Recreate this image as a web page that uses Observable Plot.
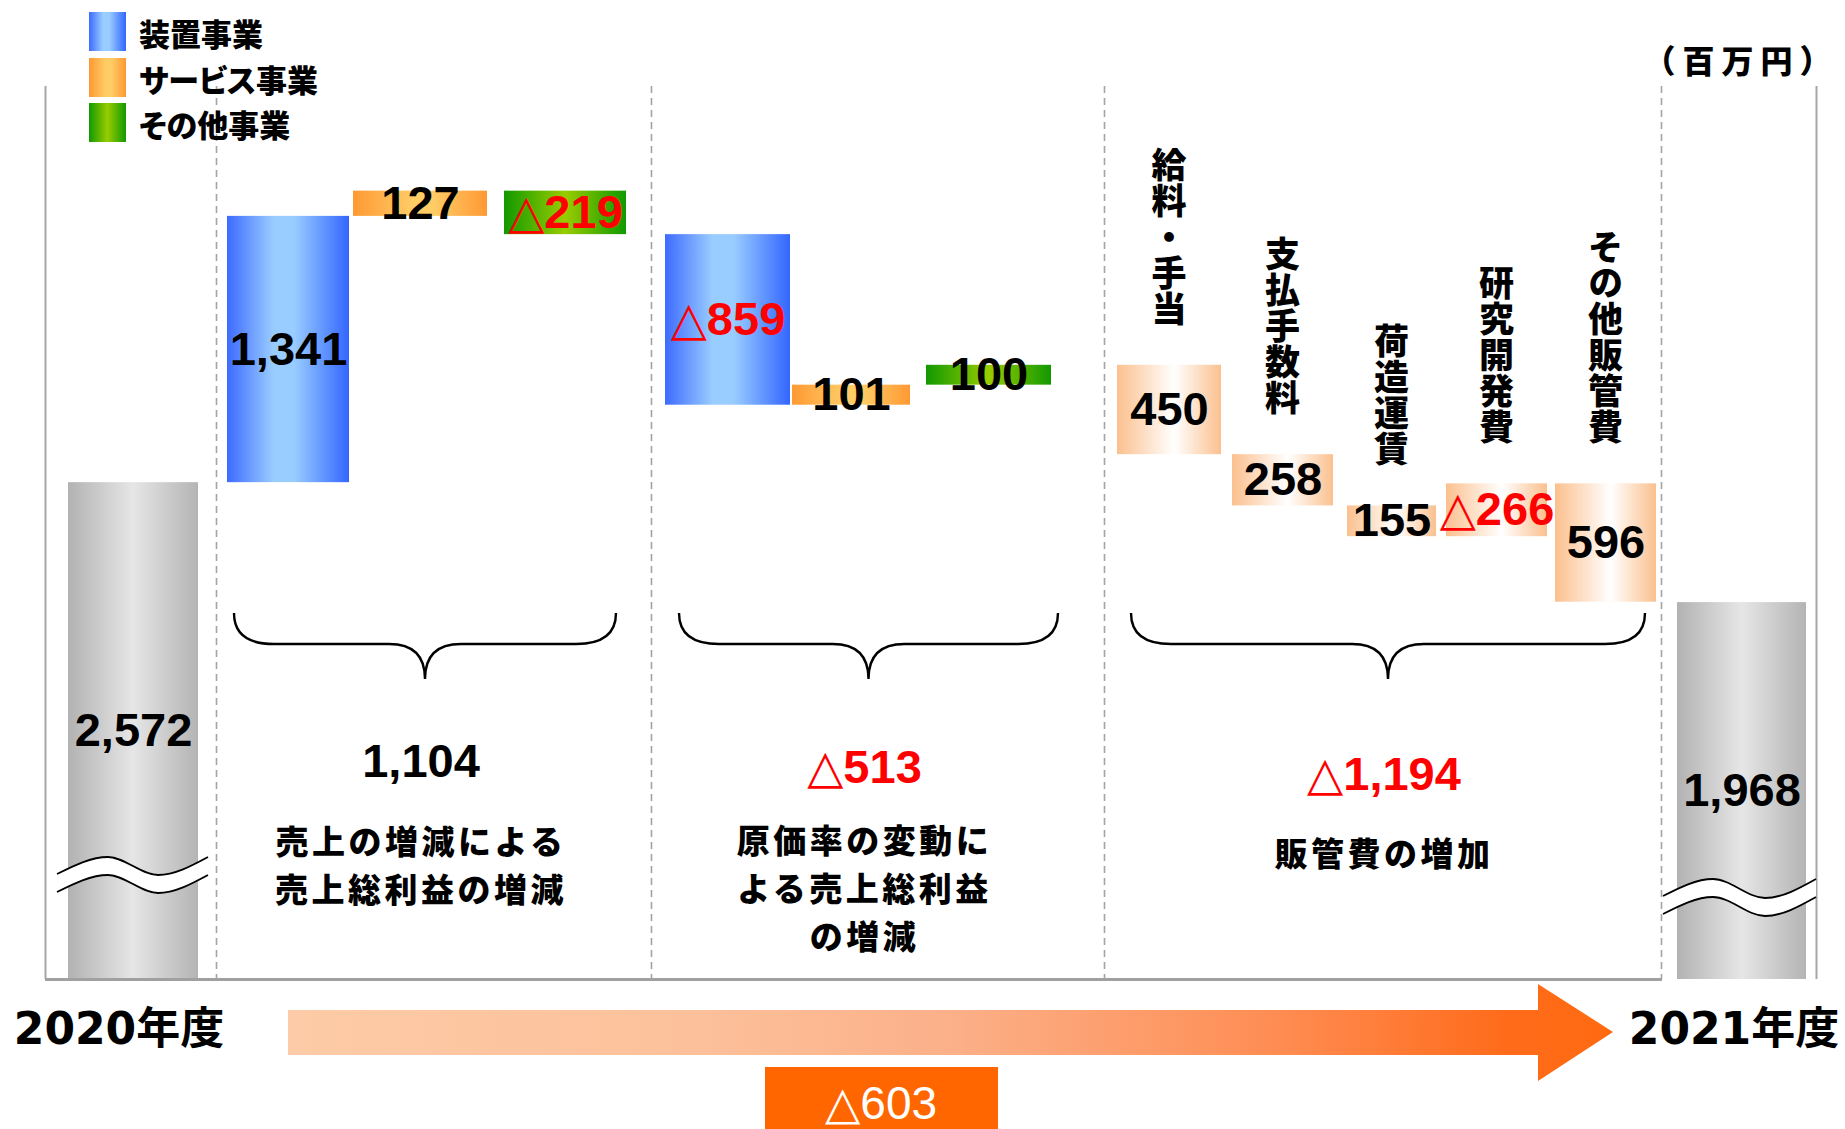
<!DOCTYPE html>
<html>
<head>
<meta charset="utf-8">
<script src="https://cdn.jsdelivr.net/npm/d3@7"></script>
<script src="https://cdn.jsdelivr.net/npm/@observablehq/plot@0.6"></script>
<style>
  html, body { margin: 0; padding: 0; background: #fff; }
  #chart svg { display: block; }
  #chart text { text-spacing-trim: space-all; }
</style>
</head>
<body>
<div id="chart"></div>
<script>
// ---------------- data (millions of yen) ----------------
const fy2020Label = "2020年度";
const fy2021Label = "2021年度";
const fy2020Value = 2572;
const fy2021Value = 1968;
const segments = ["装置事業", "サービス事業", "その他事業"];
const salesEffect = [1341, 127, -219];        // 売上の増減による売上総利益の増減
const costRateEffect = [-859, 101, 100];      // 原価率の変動による売上総利益の増減
const sgaItems = ["給料・手当", "支払手数料", "荷造運賃", "研究開発費", "その他販管費"];
const sgaIncrease = [450, 258, 155, -266, 596]; // 販管費の増加 (expense increase)
const groupTotals = [1104, -513, -1194];
const groupLabels = [
  ["売上の増減による", "売上総利益の増減"],
  ["原価率の変動に", "よる売上総利益", "の増減"],
  ["販管費の増加"]
];
const totalChange = -603;
const unitLabel = "（百万円）";

// ---------------- layout (pixels) ----------------
const W = 1845, H = 1129;
const yFloor = 70, yCeil = 4567;            // broken value axis shown in the frame
const barSlots = [[68,198],[227,349],[353,487],[504,626],[665,790],[792,910],[926,1051],
                  [1117,1221],[1232,1333],[1347,1436],[1446,1547],[1555,1656],[1677,1806]];
const dividerX = [216, 651, 1104, 1661];
const frameX = [45, 1816];
const braceSpans = [[234, 616], [679, 1058], [1131, 1645]];
const groupTotalY = [760, 766, 773];
const groupLabelY = [840, 839, 852];

const CJK = "'Noto Sans CJK JP', 'Noto Sans', sans-serif";
const NUM = "'Liberation Sans', 'DejaVu Sans', sans-serif";

const fmtNum = d3.format(",");
const fmtDelta = v => v < 0 ? "△" + fmtNum(-v) : fmtNum(v);
const segFill = ["url(#gBlue)", "url(#gOrange)", "url(#gGreen)"];

// ---------------- waterfall rows ----------------
const rows = [];
let level = fy2020Value;
rows.push({name: fy2020Label, y1: yFloor, y2: fy2020Value, shown: fy2020Value, fill: "url(#gGrey)"});
salesEffect.forEach((v, i) => { rows.push({name: segments[i], y1: level, y2: level + v, shown: v, fill: segFill[i]}); level += v; });
costRateEffect.forEach((v, i) => { rows.push({name: segments[i], y1: level, y2: level + v, shown: v, fill: segFill[i]}); level += v; });
sgaIncrease.forEach((v, i) => { rows.push({name: sgaItems[i], y1: level, y2: level - v, shown: v, fill: "url(#gPeach)", sga: true}); level -= v; });
rows.push({name: fy2021Label, y1: yFloor, y2: fy2021Value, shown: fy2021Value, fill: "url(#gGrey)"});
rows.forEach((r, i) => { r.x1 = barSlots[i][0]; r.x2 = barSlots[i][1]; r.xm = (r.x1 + r.x2) / 2; });

const plot = Plot.plot({
  width: W, height: H,
  marginTop: 86, marginBottom: 150, marginLeft: 0, marginRight: 0,
  x: {domain: [0, W], range: [0, W], axis: null},
  y: {domain: [yFloor, yCeil], axis: null},
  color: {type: "identity"},
  style: {background: "#fff", overflow: "visible"},
  marks: [
    Plot.ruleX(dividerX, {stroke: "#a3a3a3", strokeWidth: 1.6, strokeDasharray: "7,5"}),
    Plot.ruleX(frameX, {stroke: "#a6a6a6", strokeWidth: 2}),
    Plot.rect(rows, {x1: "x1", x2: "x2", y1: "y1", y2: "y2", fill: "fill"}),
    Plot.ruleY([yFloor], {x1: 45, x2: 1662, stroke: "#a0a0a0", strokeWidth: 3}),
    Plot.text(rows, {x: "xm", y: d => (d.y1 + d.y2) / 2, text: d => fmtDelta(d.shown),
      fill: d => d.shown < 0 ? "#ff0000" : "#000000",
      fontSize: 47, fontWeight: "bold", fontFamily: NUM})
  ]
});
document.getElementById("chart").appendChild(plot);
const xS = plot.scale("x"), yS = plot.scale("y");

// ---------------- decorations ----------------
const svg = d3.select(plot);
const defs = svg.insert("defs", ":first-child");
function grad(id, stops) {
  const g = defs.append("linearGradient").attr("id", id)
    .attr("x1", 0).attr("x2", 1).attr("y1", 0).attr("y2", 0);
  stops.forEach(([o, c]) => g.append("stop").attr("offset", o).attr("stop-color", c));
}
grad("gBlue", [[0, "#3d6bff"], [0.38, "#99ccff"], [0.55, "#99ccff"], [1, "#3366ff"]]);
grad("gOrange", [[0, "#ff9933"], [0.45, "#ffcc66"], [0.6, "#ffcc66"], [1, "#ff9933"]]);
grad("gGreen", [[0, "#119900"], [0.5, "#99cc00"], [1, "#119900"]]);
grad("gGrey", [[0, "#b2b2b2"], [0.5, "#e6e6e6"], [1, "#b4b4b4"]]);
grad("gPeach", [[0, "#fbc08e"], [0.55, "#ffffff"], [1, "#fbc08e"]]);
grad("gArrow", [[0, "#fdcba7"], [0.3, "#fcc19b"], [0.5, "#fbb089"], [0.75, "#ff8c52"], [0.92, "#ff6b1a"], [1, "#ff6a10"]]);

const over = svg.append("g");

function txt(g, x, y, s, o = {}) {
  const t = g.append("text").attr("x", x).attr("y", y).text(s)
    .attr("text-anchor", o.anchor || "middle")
    .attr("dominant-baseline", "central")
    .attr("font-family", o.family || CJK)
    .attr("font-size", o.size || 32)
    .attr("font-weight", o.weight || 900)
    .attr("fill", o.fill || "#000")
    .attr("letter-spacing", o.spacing || 0);
  if (o.palt) t.style("font-feature-settings", "'palt' 1");
  return t;
}

// vertical SG&A item labels above each bar (positioned through Plot's scales)
rows.filter(d => d.sga).forEach(d => {
  over.append("text")
    .attr("x", xS.apply(d.xm))
    .attr("y", yS.apply(Math.max(d.y1, d.y2)) - 38)
    .text(d.name)
    .style("writing-mode", "vertical-rl")
    .attr("text-anchor", "end")
    .attr("font-family", CJK)
    .attr("font-size", 35)
    .attr("font-weight", 900)
    .attr("letter-spacing", 1)
    .attr("fill", "#000");
});

// broken-axis squiggles on the total bars
const waves = [
  [[57, 874], [108, 857], [158, 875], [208, 857]],
  [[1663, 896], [1713, 879], [1765, 898], [1816, 879]]
];
const gap = 18;
const line = d3.line().curve(d3.curveMonotoneX);
const area = d3.area().curve(d3.curveMonotoneX).x(d => d[0]).y0(d => d[1]).y1(d => d[1] + gap);
waves.forEach(pts => {
  over.append("path").attr("d", area(pts)).attr("fill", "#fff");
  over.append("path").attr("d", line(pts)).attr("fill", "none").attr("stroke", "#000").attr("stroke-width", 1.8);
  over.append("path").attr("d", line(pts.map(([x, y]) => [x, y + gap]))).attr("fill", "none").attr("stroke", "#000").attr("stroke-width", 1.8);
});

// legend
const legendFill = ["url(#gBlue)", "url(#gOrange)", "url(#gGreen)"];
const legendY = [12, 58, 103];
segments.forEach((s, i) => {
  over.append("rect").attr("x", 89).attr("y", legendY[i]).attr("width", 37).attr("height", 39).attr("fill", legendFill[i]);
  txt(over, 139, legendY[i] + 20, s, {anchor: "start", size: 31, palt: true});
});

// unit
txt(over, 1741, 59, unitLabel, {size: 32, spacing: 7});

// braces, group totals, group labels
function bracePath(L, R, top, flat, tip) {
  const C = (L + R) / 2, r = 40, c = 36;
  return `M${L},${top} Q${L},${flat} ${L + r},${flat} L${C - c},${flat} Q${C},${flat} ${C},${tip} ` +
         `Q${C},${flat} ${C + c},${flat} L${R - r},${flat} Q${R},${flat} ${R},${top}`;
}
braceSpans.forEach(([L, R], i) => {
  over.append("path").attr("d", bracePath(L, R, 613, 644, 679))
    .attr("fill", "none").attr("stroke", "#000").attr("stroke-width", 2.4);
  const C = (L + R) / 2;
  const v = groupTotals[i];
  txt(over, C - 4, groupTotalY[i], fmtDelta(v), {family: NUM, size: 47, weight: "bold", fill: v < 0 ? "#ff0000" : "#000"});
  groupLabels[i].forEach((ln, k) => txt(over, C - 4, groupLabelY[i] + k * 48, ln, {size: 33, spacing: 3.5}));
});

// arrow with total change
over.append("path")
  .attr("d", "M288,1010 H1538 V984 L1613,1032 L1538,1081 V1055 H288 Z")
  .attr("fill", "url(#gArrow)");
over.append("rect").attr("x", 765).attr("y", 1067).attr("width", 233).attr("height", 62).attr("fill", "#ff6600");
txt(over, 881, 1103, fmtDelta(totalChange), {family: NUM, size: 46, weight: "normal", fill: "#fff"});

// fiscal-year labels
txt(over, 119, 1028, fy2020Label, {family: "'DejaVu Sans', " + CJK, size: 44, weight: "bold"});
txt(over, 1734, 1028, fy2021Label, {family: "'DejaVu Sans', " + CJK, size: 44, weight: "bold"});
</script>
</body>
</html>
